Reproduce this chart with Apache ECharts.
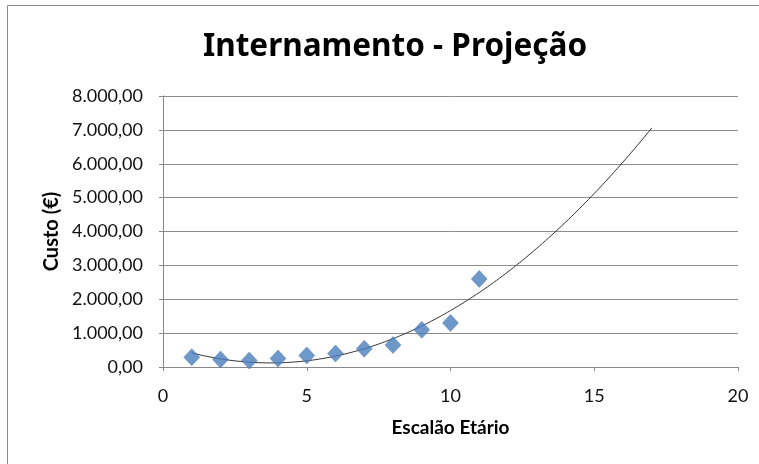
<!DOCTYPE html>
<html>
<head>
<meta charset="utf-8">
<script src="https://cdn.jsdelivr.net/npm/echarts@6/dist/echarts.min.js"></script>
<style>html,body{margin:0;padding:0;background:#fff;}#c{width:759px;height:464px;}</style>
</head>
<body>
<div id="c"></div>
<script>
var escalao = [1, 2, 3, 4, 5, 6, 7, 8, 9, 10, 11];
var custo = [290, 220, 190, 250, 340, 400, 540, 650, 1100, 1300, 2600];
var trendFrom = 1;
var trendTo = 17;
var xTicks = [0, 5, 10, 15, 20];
var yTicks = [0, 1000, 2000, 3000, 4000, 5000, 6000, 7000, 8000];

// Excel-style polynomial (order 2) trendline: least squares fit of the data
function polyFit2(xs, ys) {
  var n = xs.length, s = [0,0,0,0,0], t = [0,0,0];
  for (var i = 0; i < n; i++) {
    var x = xs[i], y = ys[i];
    for (var k = 0; k < 5; k++) s[k] += Math.pow(x, k);
    for (var k2 = 0; k2 < 3; k2++) t[k2] += Math.pow(x, k2) * y;
  }
  var M = [[s[0], s[1], s[2], t[0]], [s[1], s[2], s[3], t[1]], [s[2], s[3], s[4], t[2]]];
  for (var c = 0; c < 3; c++) {
    for (var r = c + 1; r < 3; r++) {
      var f = M[r][c] / M[c][c];
      for (var j = c; j < 4; j++) M[r][j] -= f * M[c][j];
    }
  }
  var b = [0,0,0];
  for (var r2 = 2; r2 >= 0; r2--) {
    var v = M[r2][3];
    for (var j2 = r2 + 1; j2 < 3; j2++) v -= M[r2][j2] * b[j2];
    b[r2] = v / M[r2][r2];
  }
  return b;
}
var coef = polyFit2(escalao, custo);
var trend = [];
for (var x = trendFrom; x <= trendTo + 1e-9; x += 0.1) {
  trend.push([x, coef[0] + coef[1] * x + coef[2] * x * x]);
}

function fmtPT(v) {
  var s = Math.round(v).toString().replace(/\B(?=(\d{3})+(?!\d))/g, '.');
  return s + ',00';
}

var font = 'Lato, "Open Sans", sans-serif';
var chart = echarts.init(document.getElementById('c'), null, {renderer: 'canvas'});
chart.setOption({
  animation: false,
  backgroundColor: '#fff',
  title: {
    text: 'Internamento - Projeção',
    left: 390, top: 26, textAlign: 'center',
    textStyle: {fontFamily: '"Noto Sans", sans-serif', fontSize: 31.5, fontWeight: 'bold', color: '#000'}
  },
  graphic: [{
    type: 'rect', shape: {x: 7.5, y: 5.5, width: 800, height: 500},
    style: {fill: 'none', stroke: '#8c8c8c', lineWidth: 1}, silent: true
  }],
  grid: {left: 163, right: 21, top: 96, bottom: 97},
  xAxis: {
    type: 'value', min: 0, max: 20, interval: 5,
    name: 'Escalão Etário', nameLocation: 'middle', nameGap: 51,
    nameTextStyle: {fontFamily: font, fontSize: 19, fontWeight: 'bold', color: '#000'},
    axisLine: {lineStyle: {color: '#888', width: 1}},
    axisTick: {show: true, length: 4, lineStyle: {color: '#888'}},
    splitLine: {show: false},
    axisLabel: {fontFamily: font, fontSize: 18, color: '#111', margin: 20,
      customValues: xTicks}
  },
  yAxis: {
    type: 'value', min: 0, max: 8000, interval: 1000,
    name: 'Custo (€)', nameLocation: 'middle', nameGap: 101, nameRotate: 90,
    nameTextStyle: {fontFamily: font, fontSize: 20, fontWeight: 'bold', color: '#000'},
    axisLine: {show: true, lineStyle: {color: '#888', width: 1}},
    axisTick: {show: true, length: 4, lineStyle: {color: '#888'}},
    splitLine: {lineStyle: {color: '#8c8c8c', width: 1}},
    axisLabel: {fontFamily: font, fontSize: 18, color: '#111', margin: 20,
      formatter: function (v) { return fmtPT(v); }}
  },
  series: [{
    type: 'line', data: trend, showSymbol: false, smooth: false,
    lineStyle: {color: '#333', width: 1}, z: 3
  }, {
    type: 'scatter', data: escalao.map(function (x, i) { return [x, custo[i]]; }),
    symbol: 'diamond', symbolSize: [16, 17],
    itemStyle: {color: '#4A7EBB', borderColor: '#3e6fa8', borderWidth: 0.5}, z: 4
  }]
});
</script>
</body>
</html>
